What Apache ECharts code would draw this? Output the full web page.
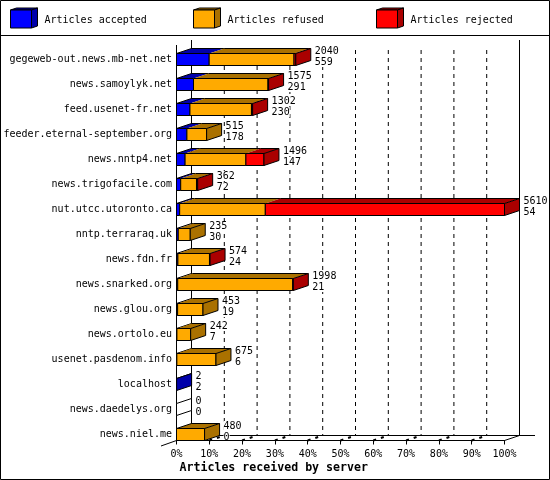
<!DOCTYPE html>
<html>
<head>
<meta charset="utf-8">
<style>html,body{margin:0;padding:0;background:#fff}#c{width:550px;height:480px}</style>
<script src="https://cdn.jsdelivr.net/npm/echarts@6/dist/echarts.min.js"></script>
</head>
<body>
<div id="c"></div>
<script>
var categories = ['gegeweb-out.news.mb-net.net','news.samoylyk.net','feed.usenet-fr.net','feeder.eternal-september.org','news.nntp4.net','news.trigofacile.com','nut.utcc.utoronto.ca','nntp.terraraq.uk','news.fdn.fr','news.snarked.org','news.glou.org','news.ortolo.eu','usenet.pasdenom.info','localhost','news.daedelys.org','news.niel.me'];
var totals   = [2040,1575,1302,515,1496,362,5610,235,574,1998,453,242,675,2,0,480];
var accepted = [559,291,230,178,147,72,54,30,24,21,19,7,6,2,0,0];
var refused  = [1451,1274,1052,337,1040,270,1465,205,540,1967,434,235,669,0,0,480];
var rejected = [30,10,20,0,309,20,4091,0,10,10,0,0,0,0,0,0];
var tickPercents = [0,10,20,30,40,50,60,70,80,90,100];
var legendNames = ['Articles accepted','Articles refused','Articles rejected'];
var frontColors = ['#0000ff','#ffaa00','#ff0000'];
var darkColors  = ['#0000aa','#aa7100','#aa0000'];

var MAXV = Math.max.apply(null, totals);
var DX = 15, DY = 5, HALF = 6;
var MONO = '"DejaVu Sans Mono", monospace';

function seg(a, i) {
  var s = 0;
  if (a >= 1) s += accepted[i];
  if (a >= 2) s += refused[i];
  return s;
}
function lastIdx(i) {
  return rejected[i] > 0 ? 2 : refused[i] > 0 ? 1 : 0;
}
function firstIdx(i) {
  return accepted[i] > 0 ? 0 : refused[i] > 0 ? 1 : rejected[i] > 0 ? 2 : 0;
}
function segData(arr, k) {
  return arr.map(function (v, i) { return [seg(k, i), seg(k, i) + v, i]; });
}
function barRender(k) {
  return function (params, api) {
    var i = api.value(2);
    var v0 = api.value(0), v1 = api.value(1);
    var empty = totals[i] === 0;
    if (v1 === v0 && !(empty && k === 0)) return { type: 'group', children: [] };
    var cy = api.coord([0, i])[1];
    var x0 = api.coord([v0, i])[0];
    var x1 = api.coord([v1, i])[0];
    var yt = cy - HALF, yb = cy + HALF;
    var black = { stroke: '#000', lineWidth: 1 };
    var kids = [];
    if (!empty) {
      kids.push({ type: 'polygon', shape: { points: [[x0, yt], [x1, yt], [x1 + DX, yt - DY], [x0 + DX, yt - DY]] },
        style: { fill: darkColors[k], stroke: null } });
      kids.push({ type: 'line', shape: { x1: x0 + DX, y1: yt - DY, x2: x1 + DX, y2: yt - DY }, style: black });
      if (k === firstIdx(i)) {
        kids.push({ type: 'line', shape: { x1: x0, y1: yt, x2: x0 + DX, y2: yt - DY }, style: black });
      }
      kids.push({ type: 'rect', shape: { x: x0, y: yt, width: x1 - x0, height: yb - yt },
        style: { fill: frontColors[k], stroke: '#000', lineWidth: 1 } });
    }
    if (k === lastIdx(i)) {
      kids.push({ type: 'polygon', shape: { points: [[x1, yt], [x1 + DX, yt - DY], [x1 + DX, yb - DY], [x1, yb]] },
        style: { fill: empty ? '#fff' : darkColors[k], stroke: '#000', lineWidth: 1 } });
    }
    return { type: 'group', children: kids };
  };
}
function barSeries(name, arr, k) {
  return { name: name, type: 'custom', coordinateSystem: 'cartesian2d', clip: false, z: 3 + k * 0.1,
    silent: true, renderItem: barRender(k), encode: { x: [0, 1], y: 2 }, data: segData(arr, k) };
}
function wallRender(params, api) {
  var pct = api.value(0);
  var last = categories.length - 1;
  var x = api.coord([pct / 100 * MAXV, 0])[0];
  var base = api.coord([0, last])[1] + HALF;   // front baseline
  var back = base - DY;
  var solid = pct === 0 || pct === 100;
  var kids = [];
  kids.push({ type: 'line', shape: { x1: x + DX, y1: solid ? 40 : 50, x2: x + DX, y2: back },
    style: { stroke: '#000', lineWidth: 1, lineDash: solid ? null : [4, 4] } });
  kids.push({ type: 'line', shape: { x1: x, y1: base, x2: x + DX, y2: back },
    style: { stroke: '#000', lineWidth: solid ? 1 : 2, lineDash: solid ? null : [3, 5], lineDashOffset: 0 } });
  if (pct === 0) {
    kids.push({ type: 'line', shape: { x1: x, y1: 45, x2: x, y2: base }, style: { stroke: '#000', lineWidth: 1 } });
    kids.push({ type: 'line', shape: { x1: x - 15.5, y1: base + 5.5, x2: x, y2: base }, style: { stroke: '#000', lineWidth: 1 } });
    kids.push({ type: 'line', shape: { x1: x + DX, y1: back, x2: x + 358.5, y2: back }, style: { stroke: '#000', lineWidth: 1 } });
  }
  return { type: 'group', children: kids };
}
function labelRender(params, api) {
  var i = api.value(0);
  var c = api.coord([totals[i], i]);
  var f = '10px ' + MONO;
  function t(s, dy) {
    return { type: 'text', style: { text: String(s), x: c[0] + 19, y: c[1] + dy, fill: '#000', font: f,
      verticalAlign: 'middle', align: 'left', backgroundColor: '#fff' } };
  }
  return { type: 'group', children: [t(totals[i], -8.5), t(accepted[i], 2.5)] };
}
function legendBox(x, k) {
  var y = 10, w = 21, h = 18, dx = 6, dy = 2;
  return [
    { type: 'polygon', shape: { points: [[x, y], [x + dx, y - dy], [x + w + dx, y - dy], [x + w, y]] }, style: { fill: darkColors[k], stroke: '#000', lineWidth: 1 } },
    { type: 'polygon', shape: { points: [[x + w, y], [x + w + dx, y - dy], [x + w + dx, y + h - dy], [x + w, y + h]] }, style: { fill: darkColors[k], stroke: '#000', lineWidth: 1 } },
    { type: 'rect', shape: { x: x, y: y, width: w, height: h }, style: { fill: frontColors[k], stroke: '#000', lineWidth: 1 } },
    { type: 'text', x: x + 34, y: 15.5, style: { text: legendNames[k], fill: '#000', font: '10px ' + MONO } }
  ];
}
var graphics = [
  { type: 'rect', silent: true, z: 100, shape: { x: 0.5, y: 0.5, width: 549, height: 479 }, style: { fill: null, stroke: '#000', lineWidth: 1 } },
  { type: 'line', silent: true, shape: { x1: 0, y1: 35.5, x2: 550, y2: 35.5 }, style: { stroke: '#000', lineWidth: 1 } }
].concat(legendBox(10.5, 0), legendBox(193.5, 1), legendBox(376.5, 2));

var chart = echarts.init(document.getElementById('c'), null, { renderer: 'canvas', width: 550, height: 480 });
chart.setOption({
  animation: false,
  backgroundColor: '#fff',
  title: { text: 'Articles received by server', left: 179.5, top: 462,
    textStyle: { fontFamily: MONO, fontSize: 11.6, fontWeight: 'bold', color: '#000' }, padding: 0 },
  graphic: { elements: graphics },
  grid: { left: 176.5, top: 47, width: 328, height: 400, containLabel: false },
  xAxis: { type: 'value', min: 0, max: MAXV, interval: MAXV / 10, offset: -6.5, z: 6,
    axisLine: { show: true, lineStyle: { color: '#000', width: 1 } },
    axisTick: { show: true, length: 4, lineStyle: { color: '#000', width: 1 } },
    splitLine: { show: false },
    axisLabel: { show: true, margin: 8.5, color: '#000', fontFamily: MONO, fontSize: 10, showMinLabel: true, showMaxLabel: true,
      formatter: function (v) { return Math.round(v / MAXV * 100) + '%'; } } },
  yAxis: { type: 'category', inverse: true, data: categories,
    axisLine: { show: false }, axisTick: { show: false }, splitLine: { show: false },
    axisLabel: { margin: 4.5, interval: 0, color: '#000', fontFamily: MONO, fontSize: 10, padding: [2, 0, 0, 0] } },
  series: [
    { name: 'wall', type: 'custom', clip: false, silent: true, z: 1, renderItem: wallRender,
      encode: { x: 0 }, data: tickPercents.map(function (p) { return [p]; }) },
    barSeries(legendNames[0], accepted, 0),
    barSeries(legendNames[1], refused, 1),
    barSeries(legendNames[2], rejected, 2),
    { name: 'values', type: 'custom', clip: false, silent: true, z: 4, renderItem: labelRender,
      encode: { y: 0 }, data: categories.map(function (c, i) { return [i]; }) }
  ]
});
</script>
</body>
</html>
